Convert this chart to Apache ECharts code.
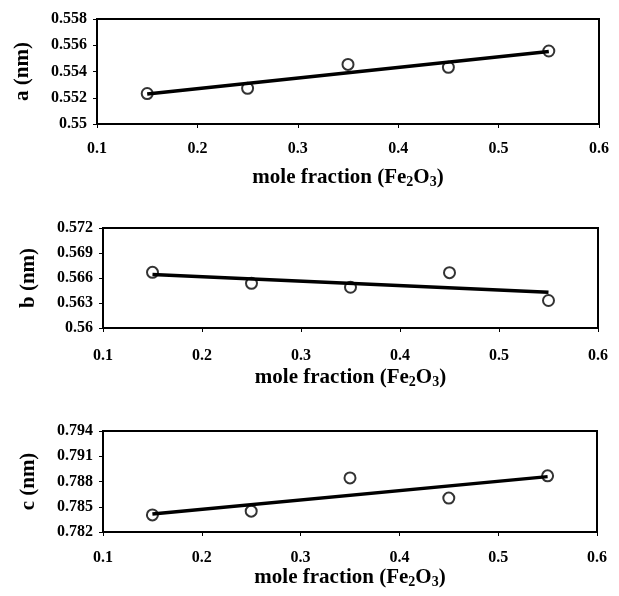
<!DOCTYPE html>
<html><head><meta charset="utf-8">
<script src="https://cdn.jsdelivr.net/npm/echarts@6/dist/echarts.min.js"></script>
<style>html,body{margin:0;padding:0;background:#fff}#c{width:619px;height:596px}</style>
</head><body><div id="c"></div>
<script>
// ---- data ----
const xValues = [0.15, 0.25, 0.35, 0.45, 0.55];
const aValues = [0.55232, 0.55272, 0.55454, 0.55432, 0.55556];
const bValues = [0.56668, 0.56536, 0.56489, 0.56664, 0.56330];
const cValues = [0.78403, 0.78448, 0.78843, 0.78603, 0.78867];
// linear trend lines (endpoints)
const trendX = [0.15, 0.55];
const aTrend = [0.55228, 0.55553];
const bTrend = [0.56642, 0.56429];
const cTrend = [0.78413, 0.78858];
// tick labels
const xTicks = [0.1, 0.2, 0.3, 0.4, 0.5, 0.6];
const aTicks = [0.55, 0.552, 0.554, 0.556, 0.558];
const bTicks = [0.56, 0.563, 0.566, 0.569, 0.572];
const cTicks = [0.782, 0.785, 0.788, 0.791, 0.794];
const yNames = ['a (nm)', 'b (nm)', 'c (nm)'];
const xName = '{t|mole fraction (Fe}{s|2}{t|O}{s|3}{t|)}';

const FONT = 'Liberation Serif';
const grids = [
  {left: 97, top: 19, width: 502, height: 105},
  {left: 103, top: 228, width: 495, height: 100},
  {left: 103, top: 431, width: 494, height: 101}
];
const xNameGaps = [42, 38, 33];
const xLabelMargins = [17, 20, 18];
const yTickSets = [aTicks, bTicks, cTicks];
const ySeries = [aValues, bValues, cValues];
const yTrends = [aTrend, bTrend, cTrend];

const labelStyle = {fontFamily: FONT, fontWeight: 'bold', fontSize: 16, color: '#000'};

const option = {
  backgroundColor: '#fff',
  animation: false,
  grid: grids.map(g => Object.assign({show: true, borderColor: '#000', borderWidth: 2, backgroundColor: 'transparent'}, g)),
  xAxis: grids.map((g, i) => ({
    type: 'value', gridIndex: i,
    min: xTicks[0], max: xTicks[xTicks.length - 1], interval: 0.1,
    axisLine: {show: true, onZero: false, lineStyle: {color: '#000', width: 2}},
    axisTick: {show: true, length: 4, lineStyle: {color: '#000', width: 1}},
    axisLabel: Object.assign({margin: xLabelMargins[i]}, labelStyle),
    splitLine: {show: false},
    name: xName, nameLocation: 'middle', nameGap: xNameGaps[i],
    nameTextStyle: {rich: {
      t: {fontFamily: FONT, fontWeight: 'bold', fontSize: 21, lineHeight: 23, color: '#000'},
      s: {fontFamily: FONT, fontWeight: 'bold', fontSize: 14, lineHeight: 14, verticalAlign: 'bottom', color: '#000'}
    }}
  })),
  yAxis: grids.map((g, i) => ({
    type: 'value', gridIndex: i,
    min: yTickSets[i][0], max: yTickSets[i][yTickSets[i].length - 1],
    axisLine: {show: true, onZero: false, lineStyle: {color: '#000', width: 2}},
    axisTick: {show: true, length: 4, customValues: yTickSets[i], lineStyle: {color: '#000', width: 1}},
    axisLabel: Object.assign({margin: 10, customValues: yTickSets[i]}, labelStyle),
    splitLine: {show: false},
    name: yNames[i], nameLocation: 'middle', nameGap: 64, nameRotate: 90,
    nameTextStyle: {fontFamily: FONT, fontWeight: 'bold', fontSize: 21, color: '#000'}
  })),
  series: []
};

for (let i = 0; i < 3; i++) {
  option.series.push({
    type: 'line', xAxisIndex: i, yAxisIndex: i,
    data: trendX.map((x, k) => [x, yTrends[i][k]]),
    showSymbol: false, symbol: 'none',
    lineStyle: {color: '#000', width: 3.5}, z: 2
  });
  option.series.push({
    type: 'scatter', xAxisIndex: i, yAxisIndex: i,
    data: xValues.map((x, k) => [x, ySeries[i][k]]),
    symbol: 'circle', symbolSize: 11,
    itemStyle: {color: 'rgba(0,0,0,0)', borderColor: '#000', borderWidth: 2}, z: 3
  });
}

const chart = echarts.init(document.getElementById('c'), null, {renderer: 'canvas'});
chart.setOption(option);
</script>
</body></html>
